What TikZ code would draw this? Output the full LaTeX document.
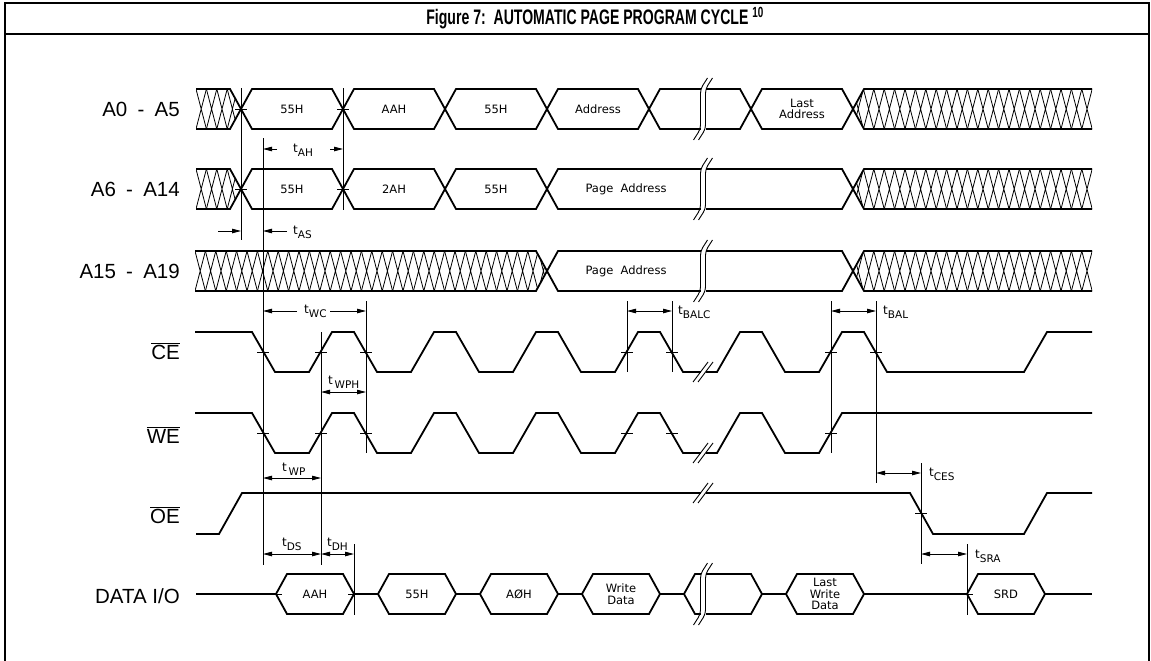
\documentclass[tikz,border=0pt]{standalone}
\usepackage{graphicx}
\usepackage{fontspec}
\setmainfont{Liberation Sans}
\newfontfamily\cadfont{DejaVu Sans}
\usetikzlibrary{arrows.meta}

\newcommand{\tsub}[1]{t\raisebox{-4pt}{\fontsize{10.5}{10.5}\selectfont #1}}
\newcommand{\dash}{\hspace{0.5em}-\hspace{0.5em}}

\newcommand{\hatchbus}[5]{%
  \begin{scope}
    \clip #1;
    \foreach \k in {0,...,#3}
      \draw[hatchline] ({#2+10.4*\k},#4) -- ({#2+10.4*\k+10.4},#5)
                       ({#2+10.4*\k+10.4},#4) -- ({#2+10.4*\k},#5);
  \end{scope}}

\newcommand{\busbreak}[3]{%
  \fill[white] ({#1-2.5},{#2-3}) rectangle ({#1+2.5},{#3+3});
  \draw[thinline, rounded corners=4pt] ({#1-9.5},{#3+11}) -- ({#1-2.5},#3) -- ({#1-2.5},#2) -- ({#1+4.5},{#2-11});
  \draw[thinline, rounded corners=4pt] ({#1-4.5},{#3+11}) -- ({#1+2.5},#3) -- ({#1+2.5},#2) -- ({#1+9.5},{#2-11});}

\newcommand{\sigbreak}[2]{%
  \fill[white] ({#1-2.5},{#2-4}) rectangle ({#1+2.5},{#2+4});
  \draw[thinline] ({#1-10},{#2+10}) -- ({#1+5},{#2-10});
  \draw[thinline] ({#1-5},{#2+10}) -- ({#1+10},{#2-10});}

\newcommand{\xmark}[2]{\draw[thinline] ({#1-6},#2) -- ({#1+6},#2);}

\newcommand{\dbox}[3]{%
  \draw[sig] (#1,594) -- ++(11,-20) -- ++(56,0) -- ++(11,20) -- ++(-11,20) -- ++(-56,0) -- cycle;
  \node[boxtext] (#2) at ({#1+39},594) {#3};}

\begin{document}
\begin{tikzpicture}[x=1pt, y=-1pt,
    frame/.style={line width=2pt},
    sig/.style={line width=1.8pt, line join=miter},
    hatchline/.style={line width=0.8pt},
    thinline/.style={line width=0.9pt},
    dimarrow/.style={line width=0.9pt, -{Triangle[length=9pt,width=4.5pt]}},
    dimboth/.style={line width=0.9pt, {Triangle[length=9pt,width=4.5pt]}-{Triangle[length=9pt,width=4.5pt]}},
    titletext/.style={font=\bfseries\fontsize{21}{21}\selectfont, inner sep=0pt},
    signame/.style={anchor=base east, font=\fontsize{20.5}{22}\selectfont, inner sep=0pt},
    boxtext/.style={font=\cadfont\fontsize{11.5}{11.5}\selectfont, align=center, inner sep=0pt},
    dimtext/.style={anchor=west, font=\cadfont\fontsize{12}{12}\selectfont, inner sep=0pt}]
  \useasboundingbox (0,0) rectangle (1151,661);

  % frame and title
  \draw[frame] (5,661) -- (5,3) -- (1149,3) -- (1149,661);
  \draw[frame] (5,34) -- (1149,34);
  \node[titletext] (title) at (595,18) {\scalebox{0.67}[1]{Figure 7:\ \ AUTOMATIC PAGE PROGRAM CYCLE \textsuperscript{10}}};

  % signal names
  \node[signame] (nA0) at (180,116) {A0\dash A5};
  \node[signame] (nA6) at (180,196) {A6\dash A14};
  \node[signame] (nA15) at (180,278) {A15\dash A19};
  \node[signame] (nCE) at (180,359) {$\overline{\mbox{CE}}$};
  \node[signame] (nWE) at (180,443) {$\overline{\mbox{WE}}$};
  \node[signame] (nOE) at (180,523) {$\overline{\mbox{OE}}$};
  \node[signame] (nDATA) at (180,603) {DATA I/O};

  % address busses
  \hatchbus{(196,89) -- (230,89) -- (241,109) -- (230,129) -- (196,129) -- cycle}{196}{4}{89}{129}
  \hatchbus{(853,109) -- (864,89) -- (1092,89) -- (1092,129) -- (864,129) -- cycle}{853}{23}{89}{129}
  \draw[sig] (196,89) -- (230,89) -- (252,129) -- (332,129) -- (354,89) -- (434,89) -- (456,129) -- (536,129) -- (558,89) -- (638,89) -- (660,129) -- (740,129) -- (762,89) -- (842,89) -- (864,129) -- (1092,129);
  \draw[sig] (196,129) -- (230,129) -- (252,89) -- (332,89) -- (354,129) -- (434,129) -- (456,89) -- (536,89) -- (558,129) -- (638,129) -- (660,89) -- (740,89) -- (762,129) -- (842,129) -- (864,89) -- (1092,89);
  \node[boxtext] (a0b1) at (292,109) {55H};
  \node[boxtext] (a0b2) at (394,109) {AAH};
  \node[boxtext] (a0b3) at (496,109) {55H};
  \node[boxtext] (a0b4) at (598,109) {Address};
  \node[boxtext] (a0b6) at (802,109) {Last\\Address};

  \hatchbus{(196,169) -- (230,169) -- (241,189) -- (230,209) -- (196,209) -- cycle}{196}{4}{169}{209}
  \hatchbus{(853,189) -- (864,169) -- (1092,169) -- (1092,209) -- (864,209) -- cycle}{853}{23}{169}{209}
  \draw[sig] (196,169) -- (230,169) -- (252,209) -- (332,209) -- (354,169) -- (434,169) -- (456,209) -- (536,209) -- (558,169) -- (842,169) -- (864,209) -- (1092,209);
  \draw[sig] (196,209) -- (230,209) -- (252,169) -- (332,169) -- (354,209) -- (434,209) -- (456,169) -- (536,169) -- (558,209) -- (842,209) -- (864,169) -- (1092,169);
  \node[boxtext] (a6b1) at (292,189) {55H};
  \node[boxtext] (a6b2) at (394,189) {2AH};
  \node[boxtext] (a6b3) at (496,189) {55H};
  \node[boxtext] (a6b4) at (626,189) {Page\ \ Address};

  \hatchbus{(195,251) -- (536,251) -- (547,271) -- (536,291) -- (195,291) -- cycle}{195}{34}{251}{291}
  \hatchbus{(853,271) -- (864,251) -- (1092,251) -- (1092,291) -- (864,291) -- cycle}{853}{23}{251}{291}
  \draw[sig] (195,251) -- (536,251) -- (558,291) -- (842,291) -- (864,251) -- (1092,251);
  \draw[sig] (195,291) -- (536,291) -- (558,251) -- (842,251) -- (864,291) -- (1092,291);
  \node[boxtext] (a15b1) at (626,271) {Page\ \ Address};

  % control signals
  \draw[sig] (195,332) -- (252,332) -- (275,372) -- (309,372) -- (332,332) -- (354,332) -- (377,372) -- (411,372) -- (434,332) -- (456,332) -- (479,372) -- (513,372) -- (536,332) -- (558,332) -- (581,372) -- (615,372) -- (638,332) -- (660,332) -- (683,372) -- (717,372) -- (740,332) -- (762,332) -- (785,372) -- (819,372) -- (842,332) -- (864,332) -- (887,372) -- (1024,372) -- (1047,332) -- (1092,332);
  \draw[sig] (195,413) -- (252,413) -- (275,453) -- (309,453) -- (332,413) -- (354,413) -- (377,453) -- (411,453) -- (434,413) -- (456,413) -- (479,453) -- (513,453) -- (536,413) -- (558,413) -- (581,453) -- (615,453) -- (638,413) -- (660,413) -- (683,453) -- (717,453) -- (740,413) -- (762,413) -- (785,453) -- (819,453) -- (842,413) -- (1092,413);
  \draw[sig] (196,534) -- (219,534) -- (242,493) -- (910,493) -- (933,534) -- (1024,534) -- (1047,493) -- (1092,493);

  % data bus
  \draw[sig] (196,594) -- (276,594) (354,594) -- (378,594) (456,594) -- (480,594) (558,594) -- (582,594) (660,594) -- (684,594) (762,594) -- (786,594) (864,594) -- (967,594) (1045,594) -- (1092,594);
  \dbox{276}{d1}{AAH}
  \dbox{378}{d2}{55H}
  \dbox{480}{d3}{AØH}
  \dbox{582}{d4}{Write\\Data}
  \dbox{684}{d5}{}
  \dbox{786}{d6}{Last\\Write\\Data}
  \dbox{967}{d7}{SRD}

  % breaks
  \busbreak{703}{89}{129}
  \busbreak{703}{169}{209}
  \busbreak{703}{251}{291}
  \busbreak{703}{574}{614}
  \sigbreak{703}{372}
  \sigbreak{703}{453}
  \sigbreak{703}{493}

  % reference lines
  \draw[thinline] (241,88) -- (241,240);
  \draw[thinline] (343,88) -- (343,210);
  \draw[thinline] (263,138) -- (263,565);
  \draw[thinline] (321,332) -- (321,565);
  \draw[thinline] (366,301) -- (366,453);
  \draw[thinline] (627,301) -- (627,372);
  \draw[thinline] (672,301) -- (672,372);
  \draw[thinline] (831,301) -- (831,453);
  \draw[thinline] (876,301) -- (876,483);
  \draw[thinline] (921,463) -- (921,564);
  \draw[thinline] (354,544) -- (354,615);
  \draw[thinline] (967,544) -- (967,615);

  % crossing marks
  \xmark{241}{109} \xmark{343}{109}
  \xmark{241}{189} \xmark{343}{189}
  \xmark{263}{352} \xmark{321}{352} \xmark{366}{352} \xmark{627}{352} \xmark{672}{352} \xmark{831}{352} \xmark{876}{352}
  \xmark{263}{433} \xmark{321}{433} \xmark{366}{433} \xmark{627}{433} \xmark{672}{433} \xmark{831}{433}
  \xmark{921}{513}
  \xmark{276}{594} \xmark{354}{594} \xmark{967}{594}

  % timing parameters
  \draw[dimarrow] (277,149) -- (263,149);
  \draw[dimarrow] (330,149) -- (343,149);
  \node[dimtext] (tah) at (293,150) {\tsub{AH}};
  \draw[dimarrow] (218,231) -- (241,231);
  \draw[dimarrow] (287,231) -- (263,231);
  \node[dimtext] (tas) at (293,232) {\tsub{AS}};
  \draw[dimarrow] (297,311) -- (263,311);
  \draw[dimarrow] (330,311) -- (366,311);
  \node[dimtext] (twc) at (304,311) {\tsub{WC}};
  \draw[dimboth] (321,392) -- (366,392);
  \node[dimtext] (twph) at (328,382) {\tsub{\,WPH}};
  \draw[dimboth] (263,478) -- (321,478);
  \node[dimtext] (twp) at (282,469) {\tsub{\,WP}};
  \draw[dimboth] (263,554) -- (321,554);
  \node[dimtext] (tds) at (282,544) {\tsub{DS}};
  \draw[dimboth] (321,554) -- (354,554);
  \node[dimtext] (tdh) at (327,544) {\tsub{DH}};
  \draw[dimboth] (627,311) -- (672,311);
  \node[dimtext] (tbalc) at (678,312) {\tsub{BALC}};
  \draw[dimboth] (831,311) -- (876,311);
  \node[dimtext] (tbal) at (883,312) {\tsub{BAL}};
  \draw[dimboth] (876,473) -- (921,473);
  \node[dimtext] (tces) at (929,474) {\tsub{CES}};
  \draw[dimboth] (921,554) -- (967,554);
  \node[dimtext] (tsra) at (975,556) {\tsub{SRA}};
\end{tikzpicture}
\end{document}
